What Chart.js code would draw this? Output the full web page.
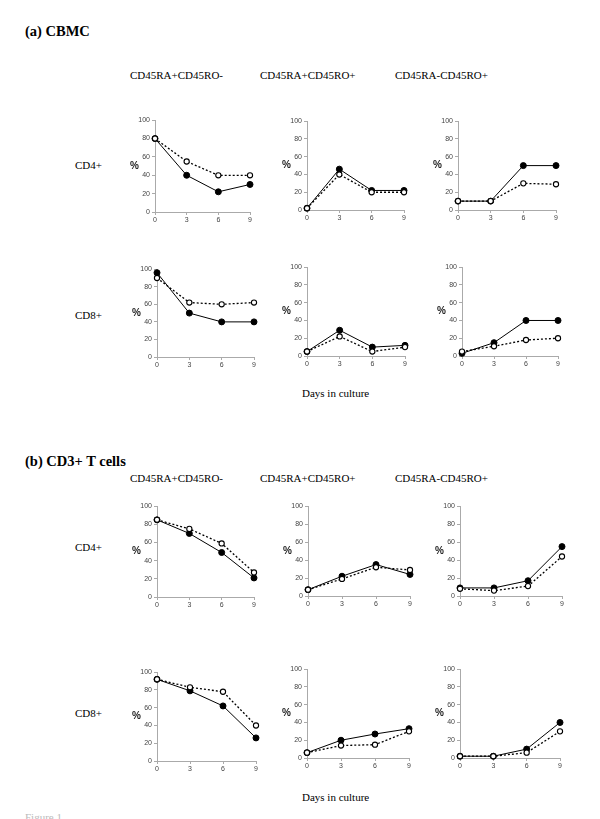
<!DOCTYPE html>
<html>
<head>
<meta charset="utf-8">
<script src="https://cdn.jsdelivr.net/npm/chart.js@4/dist/chart.umd.min.js"></script>
<style>
  body { margin: 0; background: #fff; }
  #page { position: relative; width: 600px; height: 819px; overflow: hidden; }
  .t { position: absolute; font-family: "Liberation Serif", "Times New Roman", serif; color: #000; white-space: nowrap; }
  .h { font-weight: bold; font-size: 14.5px; }
  .c { font-size: 11px; }
  canvas { position: absolute; }
</style>
</head>
<body>
<div id="page">
  <div class="t h" style="left:25px; top:23px;">(a) CBMC</div>
  <div class="t c" style="left:130px; top:69px;">CD45RA+CD45RO-</div>
  <div class="t c" style="left:260px; top:69px;">CD45RA+CD45RO+</div>
  <div class="t c" style="left:395px; top:69px;">CD45RA-CD45RO+</div>
  <div class="t c" style="left:75px; top:159px;">CD4+</div>
  <div class="t c" style="left:75px; top:309px;">CD8+</div>
  <div class="t c" style="left:302px; top:387px;">Days in culture</div>

  <div class="t h" style="left:25px; top:453px;">(b) CD3+ T cells</div>
  <div class="t c" style="left:130px; top:472px;">CD45RA+CD45RO-</div>
  <div class="t c" style="left:260px; top:472px;">CD45RA+CD45RO+</div>
  <div class="t c" style="left:395px; top:472px;">CD45RA-CD45RO+</div>
  <div class="t c" style="left:75px; top:541px;">CD4+</div>
  <div class="t c" style="left:75px; top:707px;">CD8+</div>
  <div class="t c" style="left:302px; top:791px;">Days in culture</div>
  <div class="t c" style="left:25px; top:811px; color:#bbb;">Figure 1</div>
</div>
<script>
// days in culture
const days = [0, 3, 6, 9];
const yTicks = [0, 20, 40, 60, 80, 100];

// (a) CBMC  - filled = solid line, open = dotted line
const cbmcCd4RaRoNegFilled = [80, 40, 22, 30];
const cbmcCd4RaRoNegOpen   = [80, 55, 40, 40];
const cbmcCd4RaRoPosFilled = [2, 46, 22, 22];
const cbmcCd4RaRoPosOpen   = [2, 40, 20, 20];
const cbmcCd4RoOnlyFilled  = [10, 10, 50, 50];
const cbmcCd4RoOnlyOpen    = [10, 10, 30, 29];
const cbmcCd8RaRoNegFilled = [96, 50, 40, 40];
const cbmcCd8RaRoNegOpen   = [90, 62, 60, 62];
const cbmcCd8RaRoPosFilled = [5, 29, 10, 12];
const cbmcCd8RaRoPosOpen   = [5, 22, 5, 10];
const cbmcCd8RoOnlyFilled  = [3, 15, 40, 40];
const cbmcCd8RoOnlyOpen    = [5, 11, 18, 20];

// (b) CD3+ T cells
const tCd4RaRoNegFilled = [85, 70, 49, 21];
const tCd4RaRoNegOpen   = [85, 75, 59, 27];
const tCd4RaRoPosFilled = [7, 22, 35, 24];
const tCd4RaRoPosOpen   = [7, 19, 32, 29];
const tCd4RoOnlyFilled  = [9, 9, 17, 55];
const tCd4RoOnlyOpen    = [8, 6, 11, 44];
const tCd8RaRoNegFilled = [92, 79, 62, 26];
const tCd8RaRoNegOpen   = [92, 83, 78, 40];
const tCd8RaRoPosFilled = [6, 20, 27, 33];
const tCd8RaRoPosOpen   = [6, 14, 15, 30];
const tCd8RoOnlyFilled  = [2, 2, 10, 40];
const tCd8RoOnlyOpen    = [2, 2, 6, 30];

// plot area of each panel: left (day 0), right (day 9), top (100), bottom (0)
const panels = [
  { box: [155, 250, 120, 212], filled: cbmcCd4RaRoNegFilled, open: cbmcCd4RaRoNegOpen },
  { box: [307, 404, 121, 210], filled: cbmcCd4RaRoPosFilled, open: cbmcCd4RaRoPosOpen },
  { box: [458, 556, 121, 210], filled: cbmcCd4RoOnlyFilled,  open: cbmcCd4RoOnlyOpen },
  { box: [157, 254, 269, 357], filled: cbmcCd8RaRoNegFilled, open: cbmcCd8RaRoNegOpen },
  { box: [307, 405, 267, 356], filled: cbmcCd8RaRoPosFilled, open: cbmcCd8RaRoPosOpen },
  { box: [462, 558, 267, 356], filled: cbmcCd8RoOnlyFilled,  open: cbmcCd8RoOnlyOpen },
  { box: [157, 254, 506, 597], filled: tCd4RaRoNegFilled, open: tCd4RaRoNegOpen },
  { box: [308, 410, 506, 596], filled: tCd4RaRoPosFilled, open: tCd4RaRoPosOpen },
  { box: [460, 562, 506, 596], filled: tCd4RoOnlyFilled,  open: tCd4RoOnlyOpen },
  { box: [157, 256, 672, 761], filled: tCd8RaRoNegFilled, open: tCd8RaRoNegOpen },
  { box: [307, 409, 669, 758], filled: tCd8RaRoPosFilled, open: tCd8RaRoPosOpen },
  { box: [460, 560, 669, 758], filled: tCd8RoOnlyFilled,  open: tCd8RoOnlyOpen }
];

const Y_W = 30, X_H = 14, PAD_T = 6, PAD_R = 8;
const tickFont = { family: "Liberation Sans, Arial, sans-serif", size: 7 };

function toPoints(vals) {
  return days.map((d, i) => ({ x: d, y: vals[i] }));
}

// upright "%" to the left of the y axis
const percentLabel = {
  id: "percentLabel",
  afterDraw(chart) {
    const ctx = chart.ctx;
    const area = chart.chartArea;
    ctx.save();
    ctx.font = "bold 10px Liberation Sans, Arial, sans-serif";
    ctx.fillStyle = "#222";
    ctx.textAlign = "left";
    ctx.textBaseline = "middle";
    ctx.fillText("%", 5, (area.top + area.bottom) / 2);
    ctx.restore();
  }
};

const page = document.getElementById("page");

panels.forEach(p => {
  const [x0, x9, top, bottom] = p.box;
  const canvas = document.createElement("canvas");
  const w = (x9 - x0) + Y_W + PAD_R;
  const h = (bottom - top) + PAD_T + X_H;
  canvas.width = w;
  canvas.height = h;
  canvas.style.left = (x0 - Y_W) + "px";
  canvas.style.top = (top - PAD_T) + "px";
  canvas.style.width = w + "px";
  canvas.style.height = h + "px";
  page.appendChild(canvas);

  new Chart(canvas.getContext("2d"), {
    type: "line",
    data: {
      datasets: [
        {
          data: toPoints(p.open),
          borderColor: "#000",
          borderWidth: 1.3,
          borderDash: [2, 2],
          pointRadius: 2.6,
          pointBackgroundColor: "#fff",
          pointBorderColor: "#000",
          pointBorderWidth: 1.1,
          clip: false
        },
        {
          data: toPoints(p.filled),
          borderColor: "#000",
          borderWidth: 1,
          pointRadius: 3,
          pointBackgroundColor: "#000",
          pointBorderColor: "#000",
          clip: false
        }
      ]
    },
    options: {
      responsive: false,
      animation: false,
      devicePixelRatio: 1,
      layout: { padding: { top: PAD_T, right: PAD_R, left: 0, bottom: 0 } },
      plugins: { legend: { display: false }, tooltip: { enabled: false } },
      scales: {
        x: {
          type: "linear",
          min: 0, max: 9,
          afterFit: s => { s.height = X_H; },
          afterBuildTicks: s => { s.ticks = days.map(v => ({ value: v })); },
          grid: { display: true, drawOnChartArea: false, drawTicks: true, tickLength: 3, color: "#aaa" },
          border: { color: "#aaa", width: 1 },
          ticks: { font: tickFont, color: "#444", padding: 1, maxRotation: 0 }
        },
        y: {
          min: 0, max: 100,
          afterFit: s => { s.width = Y_W; },
          afterBuildTicks: s => { s.ticks = yTicks.map(v => ({ value: v })); },
          grid: { display: true, drawOnChartArea: false, drawTicks: true, tickLength: 3, color: "#aaa" },
          border: { color: "#aaa", width: 1 },
          ticks: { font: tickFont, color: "#444", padding: 2 }
        }
      }
    },
    plugins: [percentLabel]
  });
});
</script>
</body>
</html>
